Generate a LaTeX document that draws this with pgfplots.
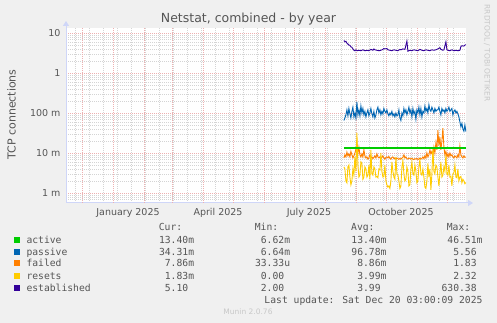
\documentclass[border=0pt]{standalone}
\usepackage{pgfplots}
\pgfplotsset{compat=1.18}
\usepackage{fontspec}
\setmainfont{DejaVu Sans}
\newfontfamily\monofont{DejaVu Sans Mono}
\usetikzlibrary{arrows.meta}
\definecolor{bgc}{HTML}{F0F0F0}
\definecolor{axisc}{HTML}{CFD6F8}
\definecolor{mgridc}{HTML}{EDB0B0}
\definecolor{gridc}{HTML}{D4D4D4}
\definecolor{fontc}{HTML}{555555}
\definecolor{lightc}{HTML}{C8C8C8}
\definecolor{lineactive}{HTML}{00CC00}
\definecolor{linepassive}{HTML}{0066B3}
\definecolor{linefailed}{HTML}{FF8000}
\definecolor{lineresets}{HTML}{FFCC00}
\definecolor{lineestab}{HTML}{330099}

\pgfplotstableread{
d v
231 6.5
232 6.0
233 6.2
234 5.6
235 5.3
236 5.0
237 4.9
238 4.5
239 4.4
240 4.0
241 3.7
242 3.6
243 3.8
244 3.6
246 3.7
248 3.6
250 3.8
252 3.6
254 3.7
256 3.6
258 3.9
260 3.7
261 4.0
262 3.8
264 3.7
266 3.6
268 3.7
270 3.9
271 4.1
272 4.0
274 4.1
275 3.8
277 3.7
279 3.6
281 3.8
283 3.7
285 3.6
287 3.9
288 3.8
290 4.0
292 3.9
294 6.3
295 3.5
297 3.7
299 3.6
301 3.8
303 3.7
305 3.6
307 3.9
309 3.7
311 3.6
313 3.8
315 3.7
317 3.6
319 3.8
321 3.7
323 3.8
325 4.0
327 4.3
328 3.9
330 3.7
331 3.8
333 6.0
334 3.8
335 3.7
337 3.6
339 3.8
341 3.6
343 3.7
345 3.6
347 3.7
348 4.6
349 4.8
351 4.7
352 5.0
353 5.1
}\tabestab

\pgfplotstableread{
d v
231 0.065
232 0.075
233 0.09
234 0.12
235 0.085
236 0.13
237 0.095
238 0.075
239 0.11
240 0.14
241 0.08
242 0.10
243 0.075
244 0.19
245 0.09
246 0.12
247 0.085
248 0.15
249 0.10
250 0.13
251 0.09
252 0.11
253 0.08
254 0.10
255 0.12
256 0.085
257 0.10
258 0.13
259 0.095
260 0.08
261 0.11
262 0.075
263 0.09
264 0.12
265 0.14
266 0.10
267 0.12
268 0.09
269 0.11
270 0.095
271 0.13
272 0.11
273 0.10
274 0.12
275 0.095
276 0.085
277 0.10
278 0.09
279 0.11
280 0.085
281 0.095
282 0.08
283 0.10
284 0.085
285 0.09
286 0.12
287 0.075
288 0.065
289 0.10
290 0.085
291 0.13
292 0.10
293 0.12
294 0.09
295 0.11
296 0.14
297 0.10
298 0.12
299 0.08
300 0.13
301 0.095
302 0.11
303 0.07
304 0.12
305 0.10
306 0.14
307 0.09
308 0.13
309 0.08
310 0.11
311 0.10
312 0.15
313 0.11
314 0.13
315 0.10
316 0.16
317 0.12
318 0.11
319 0.14
320 0.12
321 0.10
322 0.13
323 0.11
324 0.12
325 0.12
326 0.14
327 0.11
328 0.09
329 0.13
330 0.11
331 0.12
332 0.10
333 0.13
334 0.11
335 0.12
336 0.14
337 0.11
338 0.12
339 0.13
340 0.09
341 0.11
342 0.12
343 0.10
344 0.11
345 0.095
346 0.08
347 0.06
348 0.045
349 0.055
350 0.04
351 0.035
352 0.05
353 0.0343
}\tabpassive

\pgfplotstableread{
d v
231 0.0075
232 0.0090
233 0.0080
234 0.0105
235 0.0085
236 0.0095
237 0.0080
238 0.0110
239 0.0090
240 0.0075
241 0.0085
242 0.0100
243 0.0125
244 0.0180
245 0.0100
246 0.0140
247 0.0090
248 0.0080
249 0.0095
250 0.0080
251 0.0120
252 0.0085
253 0.0075
254 0.0080
255 0.0070
256 0.0075
257 0.0090
258 0.0075
259 0.0080
260 0.0072
261 0.0078
262 0.0085
263 0.0075
264 0.0095
265 0.0080
266 0.0075
267 0.0080
268 0.0072
269 0.0078
270 0.0085
271 0.0075
272 0.0070
273 0.0078
274 0.0080
275 0.0075
276 0.0082
277 0.0073
278 0.0070
279 0.0078
280 0.0080
281 0.0072
282 0.0075
283 0.0070
284 0.0075
285 0.0072
286 0.0069
287 0.0073
288 0.0070
289 0.0075
290 0.0078
291 0.0090
292 0.0075
293 0.0080
294 0.0072
295 0.0070
296 0.0075
297 0.0073
298 0.0070
299 0.0074
300 0.0070
301 0.0068
302 0.0072
303 0.0070
304 0.0073
305 0.0069
306 0.0071
307 0.0075
308 0.0070
309 0.0073
310 0.0080
311 0.0072
312 0.0085
313 0.0075
314 0.0100
315 0.0080
316 0.0090
317 0.0120
318 0.0095
319 0.0110
320 0.0085
321 0.0140
322 0.0100
323 0.0180
324 0.0120
325 0.0370
326 0.0150
327 0.0250
328 0.0120
329 0.0200
330 0.0420
331 0.0140
332 0.0090
333 0.0110
334 0.0080
335 0.0095
336 0.0080
337 0.0100
338 0.0085
339 0.0090
340 0.0080
341 0.0075
342 0.0085
343 0.0080
344 0.0075
345 0.0090
346 0.0080
347 0.0150
348 0.0090
349 0.0080
350 0.0075
351 0.0085
352 0.0078
353 0.00786
}\tabfailed

\pgfplotstableread{
d v
231 0.0045
232 0.0040
233 0.0020
234 0.0018
235 0.0045
236 0.0050
237 0.0025
238 0.0016
239 0.0020
240 0.0040
241 0.0028
242 0.0080
243 0.0035
244 0.0320
245 0.0050
246 0.0025
247 0.0028
248 0.0060
249 0.0055
250 0.0022
251 0.0025
252 0.0045
253 0.0040
254 0.0025
255 0.0028
256 0.0050
257 0.0022
258 0.0120
259 0.0030
260 0.0028
261 0.0045
262 0.0040
263 0.0025
264 0.0026
265 0.0024
266 0.0040
267 0.0038
268 0.0100
269 0.0035
270 0.0025
271 0.0026
272 0.0050
273 0.0020
274 0.0016
275 0.0014
276 0.0015
277 0.0013
278 0.0020
279 0.0060
280 0.0035
281 0.0025
282 0.0022
283 0.0080
284 0.0030
285 0.0028
286 0.0020
287 0.0013
288 0.0015
289 0.0045
290 0.0065
291 0.0030
292 0.0020
293 0.0022
294 0.0045
295 0.0035
296 0.0015
297 0.0016
298 0.0040
299 0.0060
300 0.0030
301 0.0028
302 0.0050
303 0.0035
304 0.0018
305 0.0020
306 0.0045
307 0.0070
308 0.0030
309 0.0028
310 0.0040
311 0.0025
312 0.0014
313 0.0013
314 0.0020
315 0.0055
316 0.0025
317 0.0040
318 0.0012
319 0.0030
320 0.0140
321 0.0035
322 0.0030
323 0.0050
324 0.0045
325 0.0025
326 0.0015
327 0.0030
328 0.0060
329 0.0025
330 0.0028
331 0.0045
332 0.0035
333 0.0090
334 0.0030
335 0.0028
336 0.0050
337 0.0025
338 0.0026
339 0.0015
340 0.0030
341 0.0032
342 0.0050
343 0.0025
344 0.0024
345 0.0040
346 0.0020
347 0.0025
348 0.0026
349 0.0018
350 0.0022
351 0.0020
352 0.0017
353 0.00183
}\tabresets

\pgfplotstableread{
d v
231 0.0134
292 0.0134
353 0.0134
}\tabactive

\begin{document}
\begin{tikzpicture}[x=1pt,y=1pt]
\fill[bgc] (0,0) rectangle (497,323);
\begin{axis}[
  at={(66pt,120pt)}, anchor=south west,
  width=400pt, height=175pt, scale only axis,
  xmin=-46.9, xmax=353.1,
  ymode=log, ymin=0.000562, ymax=13.34,
  axis lines=left,
  axis line style={draw=axisc, line width=1pt},
  x axis line style={-{Triangle[length=5pt,width=6pt]}, shorten >=-7pt},
  y axis line style={-{Triangle[length=5pt,width=6pt]}, shorten >=-7pt},
  axis background/.style={fill=white},
  xtick={15.1,105.1,196.1,288.1},
  xticklabels={January 2025, April 2025, July 2025, October 2025},
  major tick length=0pt, minor tick length=0pt,
  extra x ticks={-31,0,31,59,90,120,151,181,212,243,273,304,334},
  extra x tick labels={},
  extra x tick style={grid=major},
  minor xtick={-38,-24,...,340},
  xminorgrids=true,
  ytick={0.001,0.01,0.1,1,10},
  yticklabels={1 m,10 m,100 m,1,10},
  minor ytick={0.0006,0.0007,0.0008,0.0009,0.002,0.003,0.004,0.005,0.006,0.007,0.008,0.009,0.02,0.03,0.04,0.05,0.06,0.07,0.08,0.09,0.2,0.3,0.4,0.5,0.6,0.7,0.8,0.9,2,3,4,5,6,7,8,9},
  ymajorgrids=true, yminorgrids=true,
  major grid style={draw=mgridc, line width=0.6pt, dash pattern=on 1pt off 1pt},
  minor grid style={draw=gridc, line width=0.6pt, dash pattern=on 1pt off 1pt},
  tick label style={font=\fontsize{9.5}{11}\selectfont, text=fontc},
  xticklabel style={yshift=-2pt},
  yticklabel style={xshift=-2pt},
  clip=true,
]
\addplot[color=linepassive, solid, line width=0.9pt] table[x=d,y=v] {\tabpassive};
\addplot[color=linefailed, solid, line width=0.9pt] table[x=d,y=v] {\tabfailed};
\addplot[color=lineresets, solid, line width=0.9pt] table[x=d,y=v] {\tabresets};
\addplot[color=lineestab, solid, line width=0.9pt] table[x=d,y=v] {\tabestab};
\addplot[color=lineactive, solid, line width=1.3pt] table[x=d,y=v] {\tabactive};
\end{axis}
% title and labels
\node[text=fontc, font=\fontsize{12.5}{14}\selectfont] at (248.5,304) {Netstat, combined - by year};
\node[text=fontc, font=\fontsize{11}{13}\selectfont, rotate=90] at (11.5,208.5) {TCP connections};
\node[text=lightc, font=\fontsize{7.5}{9}\selectfont, rotate=-90] at (487,270) {RRDTOOL / TOBI OETIKER};
\node[text=lightc, font=\fontsize{7.5}{9}\selectfont] at (248,11) {Munin 2.0.76};
% legend
\begin{scope}[every node/.style={text=fontc, font=\monofont\fontsize{9.7}{11}\selectfont, inner sep=0pt}]
\node[anchor=base west] at (158.7,92.2) {Cur:};
\node[anchor=base west] at (254.7,92.2) {Min:};
\node[anchor=base west] at (351,92.2) {Avg:};
\node[anchor=base west] at (446.7,92.2) {Max:};
% rows
\fill[lineactive] (14,80) rectangle ++(6,6);
\node[anchor=base west] at (26.3,79.5) {active};
\node[anchor=base east] at (194.3,79.5) {13.40m};
\node[anchor=base east] at (290.3,79.5) {6.62m};
\node[anchor=base east] at (386.7,79.5) {13.40m};
\node[anchor=base east] at (482.7,79.5) {46.51m};
\fill[linepassive] (14,68) rectangle ++(6,6);
\node[anchor=base west] at (26.3,67.5) {passive};
\node[anchor=base east] at (194.3,67.5) {34.31m};
\node[anchor=base east] at (290.3,67.5) {6.64m};
\node[anchor=base east] at (386.7,67.5) {96.78m};
\node[anchor=base east] at (482.7,67.5) {5.56\phantom{m}};
\fill[linefailed] (14,56.5) rectangle ++(6,6);
\node[anchor=base west] at (26.3,56) {failed};
\node[anchor=base east] at (194.3,56) {7.86m};
\node[anchor=base east] at (290.3,56) {33.33u};
\node[anchor=base east] at (386.7,56) {8.86m};
\node[anchor=base east] at (482.7,56) {1.83\phantom{m}};
\fill[lineresets] (14,44.3) rectangle ++(6,6);
\node[anchor=base west] at (26.3,43.8) {resets};
\node[anchor=base east] at (194.3,43.8) {1.83m};
\node[anchor=base east] at (290.3,43.8) {0.00\phantom{m}};
\node[anchor=base east] at (386.7,43.8) {3.99m};
\node[anchor=base east] at (482.7,43.8) {2.32\phantom{m}};
\fill[lineestab] (14,32.3) rectangle ++(6,6);
\node[anchor=base west] at (26.3,31.8) {established};
\node[anchor=base east] at (194.3,31.8) {5.10\phantom{m}};
\node[anchor=base east] at (290.3,31.8) {2.00\phantom{m}};
\node[anchor=base east] at (386.7,31.8) {3.99\phantom{m}};
\node[anchor=base east] at (482.7,31.8) {630.38\phantom{m}};
\node[anchor=base east] at (482.7,19.8) {Last update: Sat Dec 20 03:00:09 2025};
\end{scope}
\pgfresetboundingbox
\useasboundingbox (0,0) rectangle (497,323);
\end{tikzpicture}
\end{document}
